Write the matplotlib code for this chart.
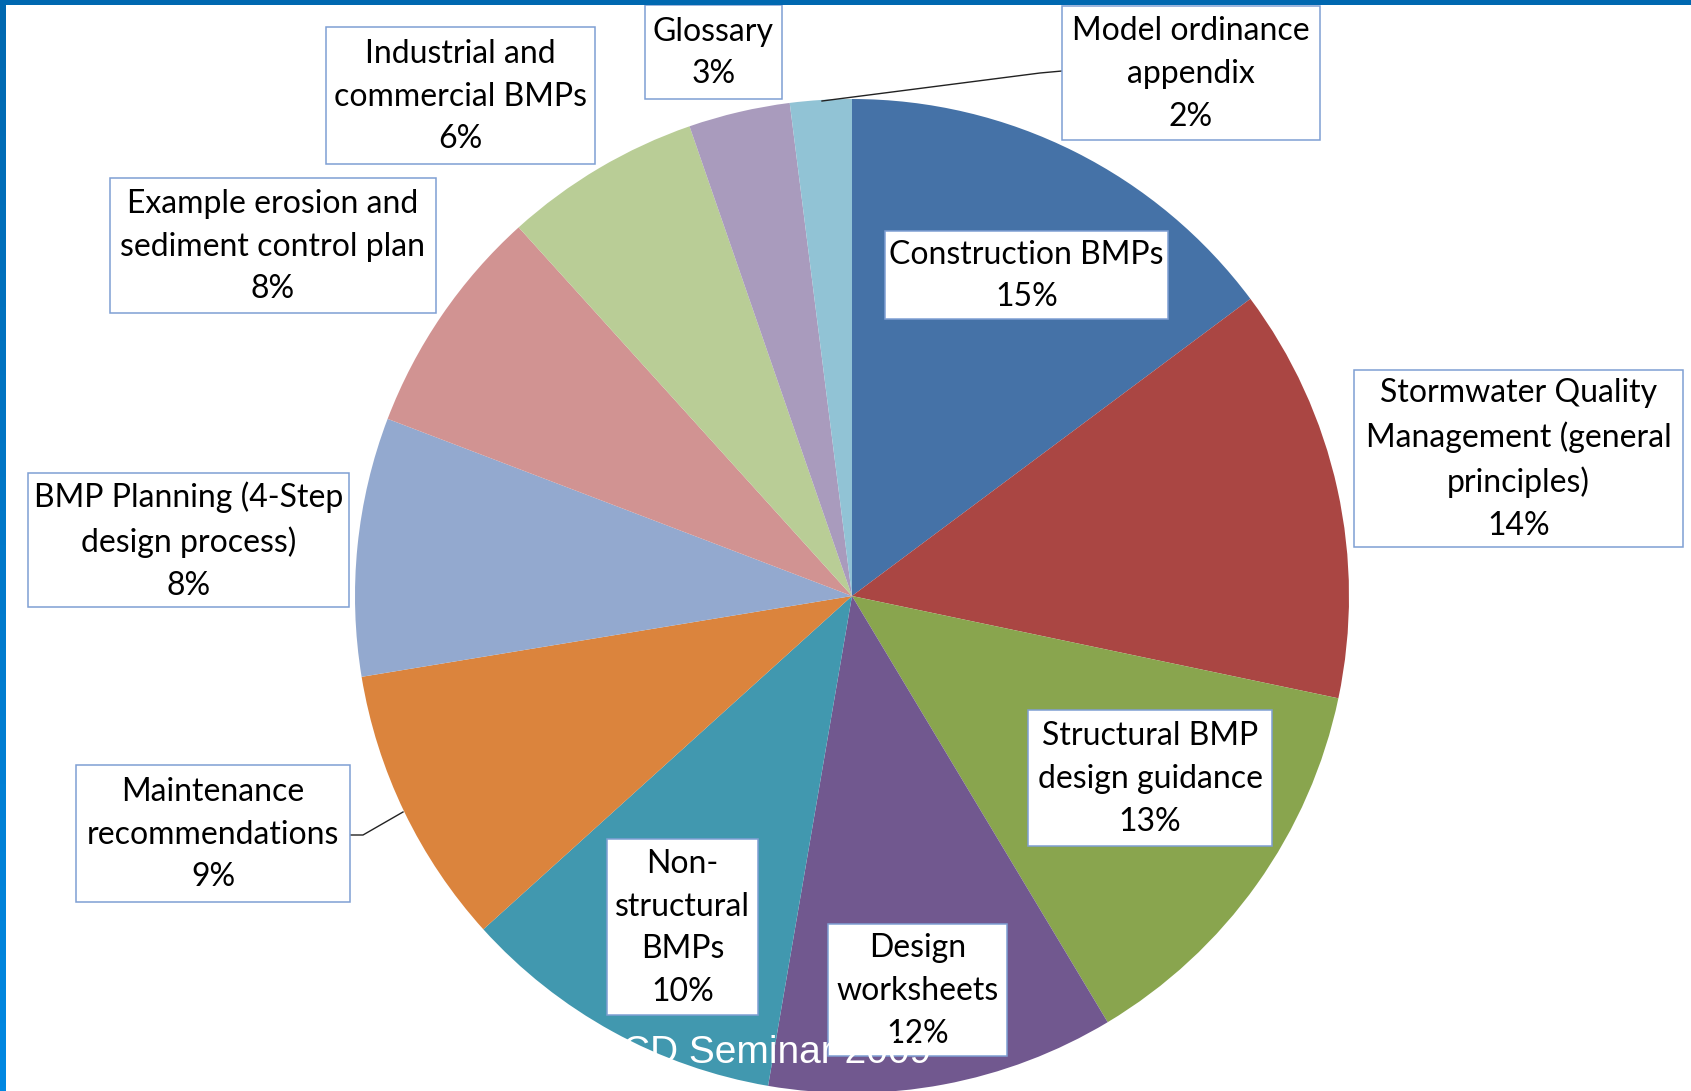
import numpy as np
import matplotlib
matplotlib.use("Agg")
from matplotlib import pyplot as plt
import matplotlib.patches as mpatches
from matplotlib.colors import LinearSegmentedColormap

# slice names, share of the document and printed percent
categories = [
    "Construction BMPs",
    "Stormwater Quality\nManagement (general\nprinciples)",
    "Structural BMP\ndesign guidance",
    "Design\nworksheets",
    "Non-\nstructural\nBMPs",
    "Maintenance\nrecommendations",
    "BMP Planning (4-Step\ndesign process)",
    "Example erosion and\nsediment control plan",
    "Industrial and\ncommercial BMPs",
    "Glossary",
    "Model ordinance\nappendix",
]
shares = [14.8, 13.5, 13.1, 11.3, 10.6, 9.1, 8.4, 7.5, 6.4, 3.3, 2.0]
pct_labels = [15, 14, 13, 12, 10, 9, 8, 8, 6, 3, 2]
colors = ["#4572A7", "#AA4643", "#89A54E", "#71588F", "#4198AF", "#DB843D",
          "#93A9CF", "#D19392", "#B9CD96", "#A99BBD", "#91C3D5"]

W, H = 1691, 1091
# label boxes in pixel coords: (left, top, right, bottom)
boxes = [
    (885, 231, 1168, 319),
    (1354, 370, 1683, 547),
    (1028, 710, 1272, 846),
    (828, 924, 1007, 1056),
    (607, 839, 758, 1015),
    (76, 765, 350, 902),
    (28, 473, 349, 607),
    (110, 178, 436, 313),
    (326, 27, 595, 164),
    (645, 5, 782, 99),
    (1062, 6, 1320, 140),
]

FONT = ["Lato", "DejaVu Sans"]


def main():
    fig = plt.figure(figsize=(W / 100, H / 100), dpi=100)
    ax = fig.add_axes([0, 0, 1, 1])

    # y axis runs downwards, so start at -90 and go counter-clockwise in data
    ax.pie(shares, colors=colors, startangle=-90, counterclock=True,
           center=(852, 596), radius=497, frame=True,
           wedgeprops=dict(linewidth=0))
    ax.set_xlim(0, W)
    ax.set_ylim(H, 0)
    ax.set_aspect("equal")
    ax.axis("off")

    # leader lines
    ax.plot([822, 1040, 1062], [101, 73, 71], color="#222222", lw=1.0, zorder=3)
    ax.plot([350, 363, 403], [835, 835, 812], color="#222222", lw=1.0, zorder=3)

    for name, pct, (x0, y0, x1, y1) in zip(categories, pct_labels, boxes):
        rect = mpatches.Rectangle((x0, y0), x1 - x0, y1 - y0, facecolor="white",
                                  edgecolor="#7F9FD3", lw=1.1, zorder=4)
        ax.add_patch(rect)
        ax.text((x0 + x1) / 2, (y0 + y1) / 2 + 1, f"{name}\n{pct}%",
                ha="center", va="center", fontsize=23, family=FONT,
                linespacing=1.53, color="black", zorder=5)

    # footer text of the slide, white
    ax.text(596, 1063, "ECD Seminar 2009", color="white", fontsize=28,
            family=["Liberation Sans", "DejaVu Sans"], ha="left",
            va="baseline", zorder=6)

    # slide frame: top bar and gradient bar on the left
    ax.add_patch(mpatches.Rectangle((0, 0), W, 5, facecolor="#0068B0",
                                    lw=0, zorder=7))
    cmap = LinearSegmentedColormap.from_list("edge", ["#0068B0", "#0088E2"])
    grad = np.linspace(0, 1, 256).reshape(-1, 1)
    ax.imshow(grad, cmap=cmap, extent=(0, 6, H, 0), aspect="auto", zorder=7)
    ax.set_xlim(0, W)
    ax.set_ylim(H, 0)

    fig.savefig("out.png", dpi=100)


if __name__ == "__main__":
    main()
